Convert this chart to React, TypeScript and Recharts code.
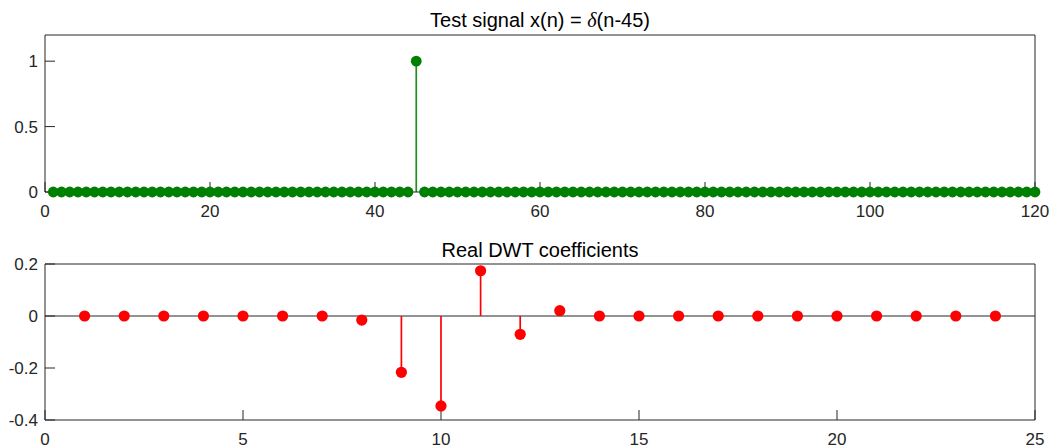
import React from 'react';
import { ComposedChart, Scatter, XAxis, YAxis, ErrorBar, ReferenceLine } from 'recharts';

// Test signal x(n) = delta(n-45), n = 1..120
const signalIndex: number[] = Array.from({ length: 120 }, (_, i) => i + 1);
const signalValues: number[] = [
  0, 0, 0, 0, 0, 0, 0, 0, 0, 0, 0, 0, 0, 0, 0, 0, 0, 0, 0, 0,
  0, 0, 0, 0, 0, 0, 0, 0, 0, 0, 0, 0, 0, 0, 0, 0, 0, 0, 0, 0,
  0, 0, 0, 0, 1, 0, 0, 0, 0, 0, 0, 0, 0, 0, 0, 0, 0, 0, 0, 0,
  0, 0, 0, 0, 0, 0, 0, 0, 0, 0, 0, 0, 0, 0, 0, 0, 0, 0, 0, 0,
  0, 0, 0, 0, 0, 0, 0, 0, 0, 0, 0, 0, 0, 0, 0, 0, 0, 0, 0, 0,
  0, 0, 0, 0, 0, 0, 0, 0, 0, 0, 0, 0, 0, 0, 0, 0, 0, 0, 0, 0,
];

// Real DWT coefficients, k = 1..24
const coefIndex: number[] = [1, 2, 3, 4, 5, 6, 7, 8, 9, 10, 11, 12, 13, 14, 15, 16, 17, 18, 19, 20, 21, 22, 23, 24];
const coefValues: number[] = [
  0, 0, 0, 0, 0, 0, 0, -0.0155, -0.2165, -0.346, 0.174, -0.0705, 0.0205, 0,
  0, 0, 0, 0, 0, 0, 0, 0, 0, 0,
];

const signalXTicks = [0, 20, 40, 60, 80, 100, 120];
const signalYTicks = [0, 0.5, 1];
const coefXTicks = [0, 5, 10, 15, 20, 25];
const coefYTicks = [-0.4, -0.2, 0, 0.2];

const titleTop = 'Test signal x(n) = ';
const titleTopTail = '(n-45)';
const titleBottom = 'Real DWT coefficients';

const stemRows = (xs: number[], ys: number[]) =>
  xs.map((n, i) => ({ n, v: ys[i], err: ys[i] >= 0 ? [ys[i], 0] : [0, -ys[i]] }));

const signalData = stemRows(signalIndex, signalValues);
const coefData = stemRows(coefIndex, coefValues);

const AX = '#262626';
const FONT = 'Liberation Sans, Arial, Helvetica, sans-serif';
const tickStyle = { fill: AX, fontSize: 17, fontFamily: FONT };

function Panel(props: {
  data: any[];
  xDomain: [number, number];
  yDomain: [number, number];
  xTicks: number[];
  yTicks: number[];
  color: string;
  stemColor: string;
  r: number;
  height: number;
  topH: number;
  bottomH: number;
  baseline: boolean;
}) {
  const { data, xDomain, yDomain, xTicks, yTicks, color, stemColor, r, height, topH, bottomH, baseline } = props;
  return (
    <ComposedChart width={1051} height={height} data={data} margin={{ top: 0, right: 0, bottom: 0, left: 0 }}>
      <XAxis
        type="number"
        dataKey="n"
        domain={xDomain}
        ticks={xTicks}
        interval={0}
        orientation="bottom"
        height={bottomH}
        tickSize={-10}
        tickMargin={23}
        stroke={AX}
        tick={tickStyle}
      />
      <XAxis
        xAxisId="top"
        type="number"
        dataKey="n"
        domain={xDomain}
        ticks={xTicks}
        interval={0}
        orientation="top"
        height={topH}
        tickSize={-10}
        stroke={AX}
        tick={false}
      />
      <YAxis
        type="number"
        domain={yDomain}
        ticks={yTicks}
        interval={0}
        width={45}
        tickSize={-10}
        tickMargin={17}
        stroke={AX}
        tick={tickStyle}
      />
      <YAxis
        yAxisId="right"
        type="number"
        orientation="right"
        domain={yDomain}
        ticks={yTicks}
        interval={0}
        width={16}
        tickSize={-10}
        stroke={AX}
        tick={false}
      />
      {baseline && <ReferenceLine y={0} stroke={AX} strokeWidth={1} />}
      <Scatter
        dataKey="v"
        isAnimationActive={false}
        shape={(p: any) => <circle cx={p.cx} cy={p.cy} r={r} fill={color} />}
      >
        <ErrorBar dataKey="err" direction="y" width={0} stroke={stemColor} strokeWidth={1.7} isAnimationActive={false} />
      </Scatter>
    </ComposedChart>
  );
}

export default function App() {
  return (
    <div style={{ position: 'absolute', left: 0, top: 0, width: 1051, height: 448, background: '#fff', fontFamily: FONT, overflow: 'hidden' }}>
      <div style={{ position: 'absolute', left: 0, top: 0 }}>
        <Panel
          data={signalData}
          xDomain={[0, 120]}
          yDomain={[0, 1.2]}
          xTicks={signalXTicks}
          yTicks={signalYTicks}
          color="#008000"
          stemColor="#1f8f1f"
          r={5.4}
          height={235}
          topH={35}
          bottomH={43}
          baseline={false}
        />
      </div>
      <div style={{ position: 'absolute', left: 0, top: 220 }}>
        <Panel
          data={coefData}
          xDomain={[0, 25]}
          yDomain={[-0.4, 0.2]}
          xTicks={coefXTicks}
          yTicks={coefYTicks}
          color="#ff0000"
          stemColor="#ff0000"
          r={5.6}
          height={240}
          topH={44}
          bottomH={40}
          baseline={true}
        />
      </div>
      <svg width={1051} height={448} style={{ position: 'absolute', left: 0, top: 0, pointerEvents: 'none' }}>
        <text x={540} y={27} textAnchor="middle" fontSize={20} fill="#000" fontFamily={FONT}>
          {titleTop}
          <tspan fontStyle="italic" fontFamily="Liberation Serif, Times New Roman, serif">δ</tspan>
          {titleTopTail}
        </text>
        <text x={540} y={257} textAnchor="middle" fontSize={20} fill="#000" fontFamily={FONT}>
          {titleBottom}
        </text>
      </svg>
    </div>
  );
}
